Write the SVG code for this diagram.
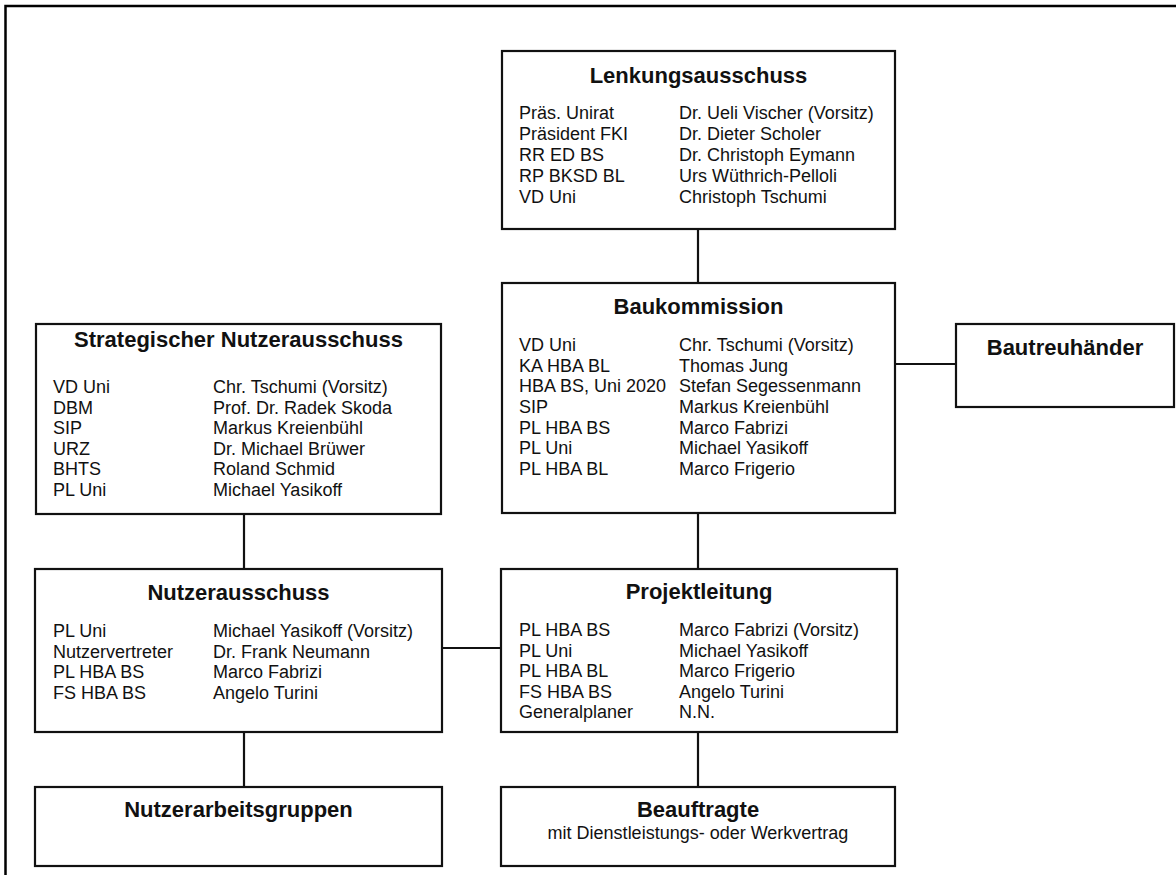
<svg xmlns="http://www.w3.org/2000/svg" width="1176" height="875" viewBox="0 0 1176 875">
<style>
  .box { fill: #ffffff; stroke: #111111; stroke-width: 2.2; }
  .conn { stroke: #111111; stroke-width: 2.2; fill: none; }
  .frame { stroke: #000000; stroke-width: 2.5; fill: none; }
  .title { font-family: "Liberation Sans", Arial, sans-serif; font-weight: bold; font-size: 22px; fill: #111111; text-anchor: middle; }
  .body { font-family: "Liberation Sans", Arial, sans-serif; font-size: 18px; fill: #111111; }
  .sub { font-family: "Liberation Sans", Arial, sans-serif; font-size: 18px; fill: #111111; text-anchor: middle; }
</style>
<rect x="0" y="0" width="1176" height="875" fill="#ffffff"/>
<path class="frame" d="M5.5,875 V6 H1176"/>

<g id="connectors">
  <line class="conn" x1="698" y1="229" x2="698" y2="283"/>
  <line class="conn" x1="895" y1="364" x2="956" y2="364"/>
  <line class="conn" x1="244" y1="514" x2="244" y2="569"/>
  <line class="conn" x1="698" y1="513" x2="698" y2="569"/>
  <line class="conn" x1="442" y1="648" x2="501" y2="648"/>
  <line class="conn" x1="244" y1="732" x2="244" y2="787"/>
  <line class="conn" x1="698" y1="732" x2="698" y2="787"/>
</g>

<g id="lenkungsausschuss">
  <rect class="box" x="502" y="51" width="393" height="178"/>
  <text class="title" x="698.5" y="83">Lenkungsausschuss</text>
  <text class="body" x="519" y="119">Präs. Unirat</text>
  <text class="body" x="519" y="140">Präsident FKI</text>
  <text class="body" x="519" y="161">RR ED BS</text>
  <text class="body" x="519" y="182">RP BKSD BL</text>
  <text class="body" x="519" y="203">VD Uni</text>
  <text class="body" x="679" y="119">Dr. Ueli Vischer (Vorsitz)</text>
  <text class="body" x="679" y="140">Dr. Dieter Scholer</text>
  <text class="body" x="679" y="161">Dr. Christoph Eymann</text>
  <text class="body" x="679" y="182">Urs Wüthrich-Pelloli</text>
  <text class="body" x="679" y="203">Christoph Tschumi</text>
</g>

<g id="baukommission">
  <rect class="box" x="502" y="283" width="393" height="230"/>
  <text class="title" x="698.5" y="314">Baukommission</text>
  <text class="body" x="519" y="351">VD Uni</text>
  <text class="body" x="519" y="371.7">KA HBA BL</text>
  <text class="body" x="519" y="392.3">HBA BS, Uni 2020</text>
  <text class="body" x="519" y="413">SIP</text>
  <text class="body" x="519" y="433.7">PL HBA BS</text>
  <text class="body" x="519" y="454.3">PL Uni</text>
  <text class="body" x="519" y="475">PL HBA BL</text>
  <text class="body" x="679" y="351">Chr. Tschumi (Vorsitz)</text>
  <text class="body" x="679" y="371.7">Thomas Jung</text>
  <text class="body" x="679" y="392.3">Stefan Segessenmann</text>
  <text class="body" x="679" y="413">Markus Kreienbühl</text>
  <text class="body" x="679" y="433.7">Marco Fabrizi</text>
  <text class="body" x="679" y="454.3">Michael Yasikoff</text>
  <text class="body" x="679" y="475">Marco Frigerio</text>
</g>

<g id="bautreuhaender">
  <rect class="box" x="956" y="324" width="218" height="83"/>
  <text class="title" x="1065" y="355">Bautreuhänder</text>
</g>

<g id="strategischer-nutzerausschuss">
  <rect class="box" x="36" y="324" width="405" height="190"/>
  <text class="title" x="238.5" y="347">Strategischer Nutzerausschuss</text>
  <text class="body" x="53" y="393">VD Uni</text>
  <text class="body" x="53" y="413.5">DBM</text>
  <text class="body" x="53" y="434">SIP</text>
  <text class="body" x="53" y="454.5">URZ</text>
  <text class="body" x="53" y="475">BHTS</text>
  <text class="body" x="53" y="495.5">PL Uni</text>
  <text class="body" x="213" y="393">Chr. Tschumi (Vorsitz)</text>
  <text class="body" x="213" y="413.5">Prof. Dr. Radek Skoda</text>
  <text class="body" x="213" y="434">Markus Kreienbühl</text>
  <text class="body" x="213" y="454.5">Dr. Michael Brüwer</text>
  <text class="body" x="213" y="475">Roland Schmid</text>
  <text class="body" x="213" y="495.5">Michael Yasikoff</text>
</g>

<g id="nutzerausschuss">
  <rect class="box" x="35" y="569" width="407" height="163"/>
  <text class="title" x="238.5" y="600">Nutzerausschuss</text>
  <text class="body" x="53" y="637.3">PL Uni</text>
  <text class="body" x="53" y="657.8">Nutzervertreter</text>
  <text class="body" x="53" y="678.3">PL HBA BS</text>
  <text class="body" x="53" y="698.8">FS HBA BS</text>
  <text class="body" x="213" y="637.3">Michael Yasikoff (Vorsitz)</text>
  <text class="body" x="213" y="657.8">Dr. Frank Neumann</text>
  <text class="body" x="213" y="678.3">Marco Fabrizi</text>
  <text class="body" x="213" y="698.8">Angelo Turini</text>
</g>

<g id="projektleitung">
  <rect class="box" x="501" y="569" width="396" height="163"/>
  <text class="title" x="699" y="599.3">Projektleitung</text>
  <text class="body" x="519" y="636">PL HBA BS</text>
  <text class="body" x="519" y="656.5">PL Uni</text>
  <text class="body" x="519" y="677">PL HBA BL</text>
  <text class="body" x="519" y="697.5">FS HBA BS</text>
  <text class="body" x="519" y="718">Generalplaner</text>
  <text class="body" x="679" y="636">Marco Fabrizi (Vorsitz)</text>
  <text class="body" x="679" y="656.5">Michael Yasikoff</text>
  <text class="body" x="679" y="677">Marco Frigerio</text>
  <text class="body" x="679" y="697.5">Angelo Turini</text>
  <text class="body" x="679" y="718">N.N.</text>
</g>

<g id="nutzerarbeitsgruppen">
  <rect class="box" x="35" y="787" width="407" height="79"/>
  <text class="title" x="238.5" y="817.3">Nutzerarbeitsgruppen</text>
</g>

<g id="beauftragte">
  <rect class="box" x="501" y="787" width="394" height="79"/>
  <text class="title" x="698" y="816.7">Beauftragte</text>
  <text class="sub" x="698" y="839.3">mit Dienstleistungs- oder Werkvertrag</text>
</g>
</svg>
